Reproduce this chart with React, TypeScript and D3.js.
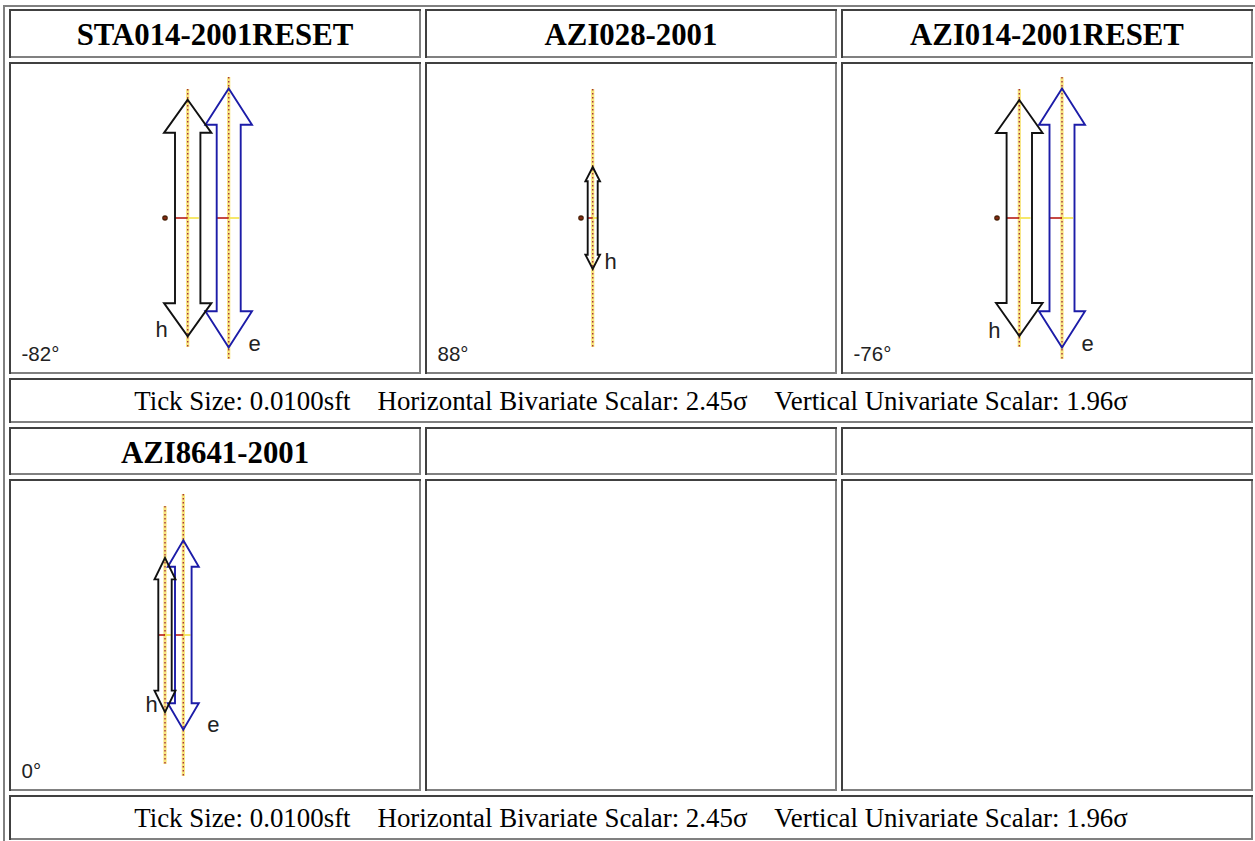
import React from 'react';
import * as d3 from 'd3';

// ---------- data ----------
const STATIONS = ['STA014-2001RESET', 'AZI028-2001', 'AZI014-2001RESET', 'AZI8641-2001'];
const ANGLES = [-82, 88, -76, 0];
// values in sft
const H_OFFSET = [0.0227, 0.0117, 0.0223, 0.0];
const H_HALF_LENGTH = [0.1183, 0.051, 0.118, 0.0772];
const H_HEAD_HALF_WIDTH = [0.0237, 0.0073, 0.0233, 0.0105];
const H_SHAFT_HALF_WIDTH = [0.0127, 0.005, 0.0127, 0.0067];
const H_LIMIT = [0.129, 0.129, 0.129, 0.129];
const E_OFFSET: (number | null)[] = [0.0637, null, 0.065, 0.0183];
const E_HALF_LENGTH: (number | null)[] = [0.1295, null, 0.1295, 0.0947];
const E_HEAD_HALF_WIDTH: (number | null)[] = [0.0233, null, 0.023, 0.0155];
const E_SHAFT_HALF_WIDTH: (number | null)[] = [0.012, null, 0.0125, 0.0083];
const E_LIMIT: (number | null)[] = [0.141, null, 0.141, 0.141];
const ORIGIN_MARKER = [true, true, true, false];
const TICK_SIZE = '0.0100sft';
const H_SCALAR = '2.45σ';
const V_SCALAR = '1.96σ';

// ---------- layout ----------
const W = 1255;
const H = 841;
const COL_X = [9, 425, 841];
const COL_W = 412;
const TABLE_X = 9;
const TABLE_W = 1244;
const ROWS = [
  { title: 9, titleH: 49, plot: 62, plotH: 312, foot: 378, footH: 45 },
  { title: 427, titleH: 48, plot: 479, plotH: 312, foot: 795, footH: 45 },
];
const LABEL_NUDGE: { h: [number, number]; e?: [number, number] }[] = [
  { h: [-26, -6.5], e: [26, -4] },
  { h: [18, -7.5] },
  { h: [-25, -6], e: [25.7, -4] },
  { h: [-13.3, -7.7], e: [30, -5] },
];

const DARK = '#404040';
const LIGHT = '#808080';

function Cell({ x, y, w, h }: { x: number; y: number; w: number; h: number }) {
  return (
    <g>
      <rect x={x} y={y} width={w} height={h} fill="#fff" />
      <rect x={x} y={y} width={w} height={2} fill={DARK} />
      <rect x={x} y={y} width={2} height={h} fill={DARK} />
      <rect x={x + 2} y={y + h - 2} width={w - 2} height={2} fill={LIGHT} />
      <rect x={x + w - 2} y={y + 2} width={2} height={h - 2} fill={LIGHT} />
    </g>
  );
}

function arrowPath(
  xs: d3.ScaleLinear<number, number>,
  ys: d3.ScaleLinear<number, number>,
  cx: number,
  L: number,
  Wd: number,
  S: number
) {
  const hl = L * 0.28;
  const pts: [number, number][] = [
    [0, -L], [Wd, -L + hl], [S, -L + hl], [S, L - hl], [Wd, L - hl],
    [0, L], [-Wd, L - hl], [-S, L - hl], [-S, -L + hl], [-Wd, -L + hl],
  ];
  const line = d3.line<[number, number]>()
    .x((p) => xs(cx + p[0]))
    .y((p) => ys(p[1]));
  return line(pts) + 'Z';
}

function Panel({ i, x, y }: { i: number; x: number; y: number }) {
  const ox = x + 156;
  const oy = y + 156;
  const xs = d3.scaleLinear().domain([-0.15, 0.15]).range([ox - 150, ox + 150]);
  const ys = d3.scaleLinear().domain([-0.15, 0.15]).range([oy - 150, oy + 150]);

  const series: {
    key: 'h' | 'e'; off: number; L: number; Wd: number; S: number; lim: number; color: string;
  }[] = [];
  if (E_OFFSET[i] != null) {
    series.push({
      key: 'e', off: E_OFFSET[i] as number, L: E_HALF_LENGTH[i] as number,
      Wd: E_HEAD_HALF_WIDTH[i] as number, S: E_SHAFT_HALF_WIDTH[i] as number,
      lim: E_LIMIT[i] as number, color: '#1c1ca8',
    });
  }
  series.push({
    key: 'h', off: H_OFFSET[i], L: H_HALF_LENGTH[i], Wd: H_HEAD_HALF_WIDTH[i],
    S: H_SHAFT_HALF_WIDTH[i], lim: H_LIMIT[i], color: '#111',
  });

  return (
    <g>
      {/* dotted limit lines */}
      {series.map((s) => (
        <g key={'lim' + s.key}>
          <line x1={xs(s.off)} x2={xs(s.off)} y1={ys(-s.lim)} y2={ys(s.lim)}
            stroke="#f8e57c" strokeWidth={3.2} />
          <line x1={xs(s.off)} x2={xs(s.off)} y1={ys(-s.lim)} y2={ys(s.lim)}
            stroke="#a5343f" strokeWidth={1.4} strokeDasharray="1.5 2.5" />
        </g>
      ))}
      {/* horizontal center ticks */}
      {series.map((s) => (
        <g key={'mid' + s.key}>
          <line x1={xs(s.off - s.S)} x2={xs(s.off)} y1={ys(0)} y2={ys(0)}
            stroke="#b81c14" strokeWidth={1.6} />
          <line x1={xs(s.off)} x2={xs(s.off + s.S * 0.88)} y1={ys(0)} y2={ys(0)}
            stroke="#f5e65a" strokeWidth={1.8} />
        </g>
      ))}
      {/* arrows */}
      {series.map((s) => (
        <path key={'arr' + s.key} d={arrowPath(xs, ys, s.off, s.L, s.Wd, s.S)}
          fill="none" stroke={s.color} strokeWidth={1.9} strokeLinejoin="miter" />
      ))}
      {ORIGIN_MARKER[i] && (
        <g>
          <circle cx={xs(0)} cy={ys(0)} r={2.8} fill="#4a2208" />
          <line x1={xs(0) - 1.5} x2={xs(0) + 1.5} y1={ys(0)} y2={ys(0)} stroke="#c0301c" strokeWidth={1} />
        </g>
      )}
      {/* labels */}
      {series.map((s) => {
        const nudge = s.key === 'h' ? LABEL_NUDGE[i].h : LABEL_NUDGE[i].e;
        if (!nudge) return null;
        return (
          <text key={'lab' + s.key} x={xs(s.off) + nudge[0]} y={ys(s.L) + nudge[1]}
            textAnchor="middle" dominantBaseline="central"
            fontFamily="'Liberation Sans', Arial, sans-serif" fontSize={22} fill="#222">
            {s.key}
          </text>
        );
      })}
      <text x={x + 12.5} y={y + 299} fontFamily="'Liberation Sans', Arial, sans-serif"
        fontSize={20.5} fill="#222">
        {`${ANGLES[i]}°`}
      </text>
    </g>
  );
}

export default function App() {
  const footer = `Tick Size: ${TICK_SIZE}\u00a0\u00a0\u00a0\u00a0Horizontal Bivariate Scalar: ${H_SCALAR}\u00a0\u00a0\u00a0\u00a0Vertical Univariate Scalar: ${V_SCALAR}`;
  const panelsPerRow = 3;
  return (
    <svg width={W} height={H} viewBox={`0 0 ${W} ${H}`}
      style={{ position: 'absolute', left: 0, top: 0, background: '#fff' }}>
      <rect x={0} y={0} width={W} height={H} fill="#fff" />
      {/* outer table border (outset) */}
      <rect x={3} y={5} width={1256} height={2} fill={LIGHT} />
      <rect x={3} y={5} width={2} height={841} fill={LIGHT} />
      <rect x={1257} y={5} width={2} height={841} fill={DARK} />
      <rect x={3} y={844} width={1256} height={2} fill={DARK} />
      {ROWS.map((row, r) => (
        <g key={r}>
          {COL_X.map((cx, c) => {
            const idx = r * panelsPerRow + c;
            const name = STATIONS[idx];
            return (
              <g key={c}>
                <Cell x={cx} y={row.title} w={COL_W} h={row.titleH} />
                {name && (
                  <text x={cx + COL_W / 2} y={row.title + 35.5} textAnchor="middle"
                    fontFamily="'Liberation Serif', 'Times New Roman', serif"
                    fontWeight="bold" fontSize={30.8} fill="#000">
                    {name}
                  </text>
                )}
                <Cell x={cx} y={row.plot} w={COL_W} h={row.plotH} />
                {name && <Panel i={idx} x={cx} y={row.plot} />}
              </g>
            );
          })}
          <Cell x={TABLE_X} y={row.foot} w={TABLE_W} h={row.footH} />
          <text x={TABLE_X + TABLE_W / 2} y={row.foot + 32} textAnchor="middle"
            fontFamily="'Liberation Serif', 'Times New Roman', serif"
            fontSize={26.9} fill="#000">
            {footer}
          </text>
        </g>
      ))}
    </svg>
  );
}
